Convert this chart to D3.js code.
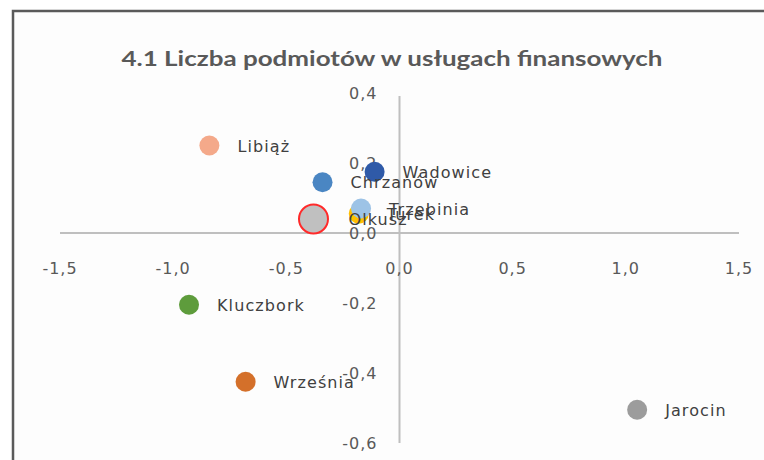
<html>
<head>
<meta charset="utf-8">
<script src="https://d3js.org/d3.v7.min.js"></script>
<style>
  body { margin: 0; background: #ffffff; }
  text { font-family: "DejaVu Sans", "Open Sans", sans-serif; }
</style>
</head>
<body>
<div id="chart"></div>
<script>

// data
var towns  = ["Turek", "Libiąż", "Wadowice", "Chrzanów", "Trzebinia", "Kluczbork", "Września", "Jarocin", "Olkusz"];
var xVals  = [-0.18, -0.84, -0.11, -0.34, -0.17, -0.93, -0.68, 1.05, -0.38];
var yVals  = [0.055, 0.25, 0.175, 0.145, 0.07, -0.205, -0.425, -0.505, 0.04];
var colors = ["#FFC000", "#F4A98A", "#2F5AA8", "#4A86C3", "#9DC3E6", "#5E9C3C", "#D4702A", "#9C9C9C", "#C0C0C0"];
var xTicks = [-1.5, -1.0, -0.5, 0.0, 0.5, 1.0, 1.5];
var yTicks = [0.4, 0.2, 0.0, -0.2, -0.4, -0.6];

var W = 764, H = 460;

var svg = d3.select("#chart")
    .append("svg")
    .attr("width", W)
    .attr("height", H);

// chart frame (cropped on the right and bottom)
svg.append("rect")
    .attr("x", 0).attr("y", 0).attr("width", W).attr("height", H)
    .attr("fill", "#ffffff");
svg.append("rect")
    .attr("x", 13).attr("y", 11).attr("width", W).attr("height", H)
    .attr("fill", "#fdfdfd")
    .attr("stroke", "#5a5a5a")
    .attr("stroke-width", 2.5);

var x = d3.scaleLinear().domain([-1.5, 1.5]).range([60, 739]);
var y = d3.scaleLinear().domain([-0.6, 0.4]).range([443, 93]);

// excel style: comma decimal, plain hyphen minus
var fmt = function(d){ return d3.format(".1f")(d).replace(".", ",").replace("\u2212", "-"); };

// title
svg.append("text")
    .attr("x", 392)
    .attr("y", 66)
    .attr("text-anchor", "middle")
    .style("font-family", "Lato, 'Open Sans', sans-serif")
    .style("font-weight", "bold")
    .style("font-size", "21px")
    .attr("textLength", 541)
    .attr("lengthAdjust", "spacingAndGlyphs")
    .attr("fill", "#595959")
    .text("4.1 Liczba podmiotów w usługach finansowych");

// axes lines
svg.append("line")
    .attr("x1", x(-1.5)).attr("x2", x(1.5))
    .attr("y1", y(0)).attr("y2", y(0))
    .attr("stroke", "#bfbfbf").attr("stroke-width", 2);
svg.append("line")
    .attr("x1", x(0)).attr("x2", x(0))
    .attr("y1", y(0.4) + 3).attr("y2", y(-0.6))
    .attr("stroke", "#bfbfbf").attr("stroke-width", 2);

// tick labels
svg.selectAll(".xlab")
    .data(xTicks)
    .enter()
    .append("text")
    .attr("class", "xlab")
    .attr("x", function(d){ return x(d); })
    .attr("y", y(0) + 41)
    .attr("text-anchor", "middle")
    .style("font-size", "16px")
    .style("letter-spacing", "1px")
    .attr("fill", "#595959")
    .text(fmt);

svg.selectAll(".ylab")
    .data(yTicks)
    .enter()
    .append("text")
    .attr("class", "ylab")
    .attr("x", x(0) - 22)
    .attr("y", function(d){ return y(d) + 6; })
    .attr("text-anchor", "end")
    .style("font-size", "16px")
    .style("letter-spacing", "1px")
    .attr("fill", "#595959")
    .text(fmt);

// points
var pts = d3.range(towns.length);
svg.selectAll(".pt")
    .data(pts)
    .enter()
    .append("circle")
    .attr("class", "pt")
    .attr("cx", function(i){ return x(xVals[i]); })
    .attr("cy", function(i){ return y(yVals[i]); })
    .attr("r", function(i){ return towns[i] == "Olkusz" ? 14.5 : 10; })
    .attr("fill", function(i){ return colors[i]; })
    .attr("stroke", function(i){ return towns[i] == "Olkusz" ? "#FF2A2A" : "none"; })
    .attr("stroke-width", 2);

// data labels
svg.selectAll(".lab")
    .data(pts)
    .enter()
    .append("text")
    .attr("class", "lab")
    .attr("x", function(i){ return x(xVals[i]) + (towns[i] == "Olkusz" ? 35 : 28); })
    .attr("y", function(i){ return y(yVals[i]) + 6; })
    .style("font-size", "16px")
    .style("letter-spacing", "1.1px")
    .attr("fill", "#404040")
    .text(function(i){ return towns[i]; });

</script>
</body>
</html>
